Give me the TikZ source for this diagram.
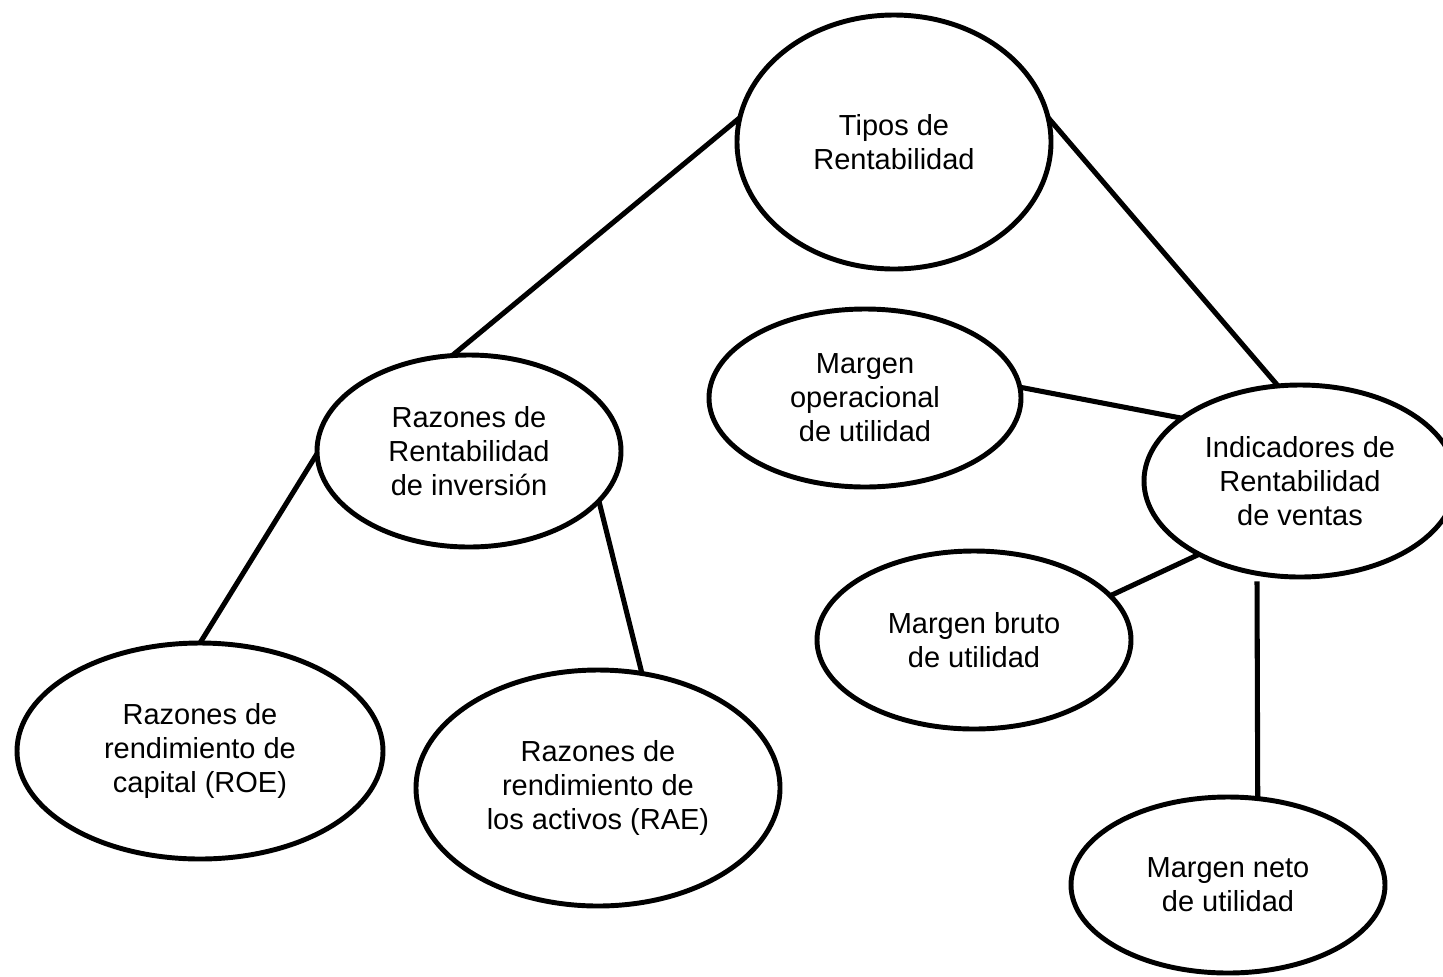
\documentclass[tikz,border=0pt]{standalone}
\usepackage{fontspec}
\setmainfont{Liberation Sans}
\usetikzlibrary{shapes.geometric}
\tikzset{
  bubble/.style={ellipse, draw=black, fill=white, line width=3.7pt,
    inner sep=0pt, outer sep=0pt, align=center,
    font=\fontsize{21.75pt}{25.5pt}\selectfont},
  link/.style={draw=black, line width=3.8pt}
}
\begin{document}
\begin{tikzpicture}[x=0.75pt, y=-0.75pt]
  \useasboundingbox (0,0) rectangle (1443,976);
  \fill[white] (0,0) rectangle (1443,976);
  \clip (0,0) rectangle (1443,976);

  % centres of the ellipses
  \path
    (894,142) coordinate (ctipos)
    (469,451) coordinate (cinv)
    (200,751) coordinate (croe)
    (598,788) coordinate (crae)
    (865,398) coordinate (cop)
    (1300,481) coordinate (cind)
    (974,640) coordinate (cbruto)
    (1228,885) coordinate (cneto);

  % nodes
  \node[bubble, minimum width=235.5pt, minimum height=190.5pt] (tipos) at (ctipos) {Tipos de\\Rentabilidad};
  \node[bubble, minimum width=228pt, minimum height=144pt] (inv) at (cinv) {Razones de\\Rentabilidad\\de inversión};
  \node[bubble, minimum width=274.5pt, minimum height=162pt] (roe) at (croe) {Razones de\\rendimiento de\\capital (ROE)};
  \node[bubble, minimum width=273pt, minimum height=177pt] (rae) at (crae) {Razones de\\rendimiento de\\los activos (RAE)};
  \node[bubble, minimum width=234pt, minimum height=133.5pt] (op) at (cop) {Margen\\operacional\\de utilidad};
  \node[bubble, minimum width=234pt, minimum height=144pt] (ind) at (cind) {Indicadores de\\Rentabilidad\\de ventas};
  \node[bubble, minimum width=235.5pt, minimum height=133.5pt] (bruto) at (cbruto) {Margen bruto\\de utilidad};
  \node[bubble, minimum width=235.5pt, minimum height=132pt] (neto) at (cneto) {Margen neto\\de utilidad};

  % connectors
  \draw[link] (tipos.171) -- (inv.100);
  \draw[link] (tipos.9) -- (ind.103);
  \draw[link] (op.4) -- (ind.152);
  \draw[link] (ind.216) -- (bruto.18);
  \draw[link, shorten <=6pt] (ind.245) -- (neto.71);
  \draw[link] (inv.181) -- (roe.north);
  \draw[link] (inv.339) -- (rae.69);
\end{tikzpicture}
\end{document}
